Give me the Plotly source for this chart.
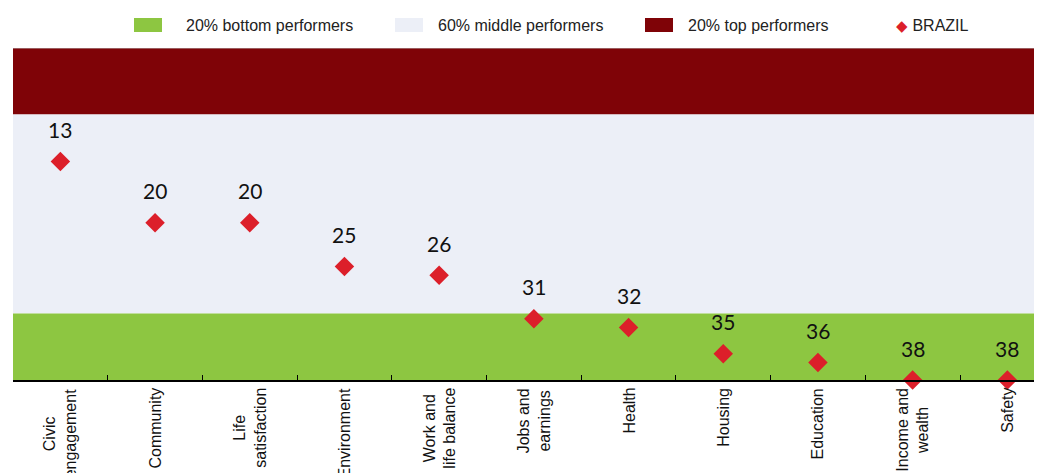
import plotly.graph_objects as go

categories = ["Civic<br>engagement", "Community", "Life<br>satisfaction", "Environment",
              "Work and<br>life balance", "Jobs and<br>earnings", "Health", "Housing",
              "Education", "Income and<br>wealth", "Safety"]
brazil_rank = [13, 20, 20, 25, 26, 31, 32, 35, 36, 38, 38]

# band edges in rank units (38 countries: top 20%, middle 60%, bottom 20%)
band_names = ["20% top performers", "60% middle performers", "20% bottom performers"]
band_lo = [0, 7.6, 30.4]
band_hi = [7.6, 30.4, 38]
band_colors = ["#7f0307", "#eceff7", "#8dc641"]

# the page body has an 8px margin; figure is offset by it and runs past the window
OFF = 8
W, H = 1042, 473 - OFF
L, R, T, B = 13 - OFF, 0, 48 - OFF, 473 - 380
STEP = 94.7  # px per category in the reference

def px_x(p):
    return (p - OFF - L) / (W - L - R)

def px_y(p):
    return (H - B - (p - OFF)) / (H - T - B)

sans = "Liberation Sans, Arial"

fig = go.Figure()

for lo, hi, col in zip(band_lo, band_hi, band_colors):
    fig.add_shape(type="rect", xref="paper", yref="y", x0=0, x1=1, y0=lo, y1=hi,
                  fillcolor=col, line_width=0, layer="below")
# thin grey rule along the top of the plot
fig.add_shape(type="line", xref="paper", yref="y", x0=0, x1=1, y0=band_lo[0], y1=band_lo[0],
              line=dict(color="#b5b5b5", width=1))

fig.add_trace(go.Scatter(
    x=categories, y=brazil_rank, mode="markers", name="BRAZIL",
    marker=dict(symbol="diamond", size=15, color="#dc1f2a"),
    cliponaxis=False, showlegend=False,
))

for c, v in zip(categories, brazil_rank):
    fig.add_annotation(x=c, y=v, text=str(v), showarrow=False, yshift=32,
                       font=dict(family="Lato, Open Sans", size=21, color="#111"))

# category labels as rotated annotations so two-line labels stay centred
for c in categories:
    fig.add_annotation(x=c, xref="x", y=0, yref="paper", text=c, showarrow=False,
                       textangle=-90, align="center", xanchor="center", yanchor="top",
                       yshift=-6, font=dict(family=sans, size=16, color="#111"))

# legend drawn by hand to get the wide swatches
legend_items = [("20% bottom performers", "#8dc641", 134, 184),
                ("60% middle performers", "#eceff7", 395, 436),
                ("20% top performers", "#7f0307", 645, 686)]
for name, col, sx, tx in legend_items:
    fig.add_shape(type="rect", xref="paper", yref="paper",
                  x0=px_x(sx), x1=px_x(sx + 28), y0=px_y(32), y1=px_y(18),
                  fillcolor=col, line_width=0)
    fig.add_annotation(xref="paper", yref="paper", x=px_x(tx), y=px_y(25),
                       xanchor="left", yanchor="middle", showarrow=False, text=name,
                       font=dict(family=sans, size=16, color="#222"))
fig.add_annotation(xref="paper", yref="paper", x=px_x(894), y=px_y(25),
                   xanchor="left", yanchor="middle", showarrow=False,
                   text='<span style="color:#dc1f2a;font-size:15px">◆</span> BRAZIL',
                   font=dict(family=sans, size=16, color="#222"))

fig.update_layout(
    width=W, height=H,
    margin=dict(l=L, r=R, t=T, b=B, autoexpand=False),
    plot_bgcolor="white", paper_bgcolor="white",
    showlegend=False,
    xaxis=dict(
        type="category", range=[-0.5, -0.5 + (W - L - R) / STEP],
        automargin=False, showticklabels=False,
        showline=True, linecolor="black", linewidth=1.5,
        ticks="inside", ticklen=5, tickcolor="black", tickwidth=1.2,
        tickson="boundaries", showgrid=False,
    ),
    yaxis=dict(range=[38, 0], visible=False, showgrid=False, zeroline=False),
)

fig.write_html("out.html")
